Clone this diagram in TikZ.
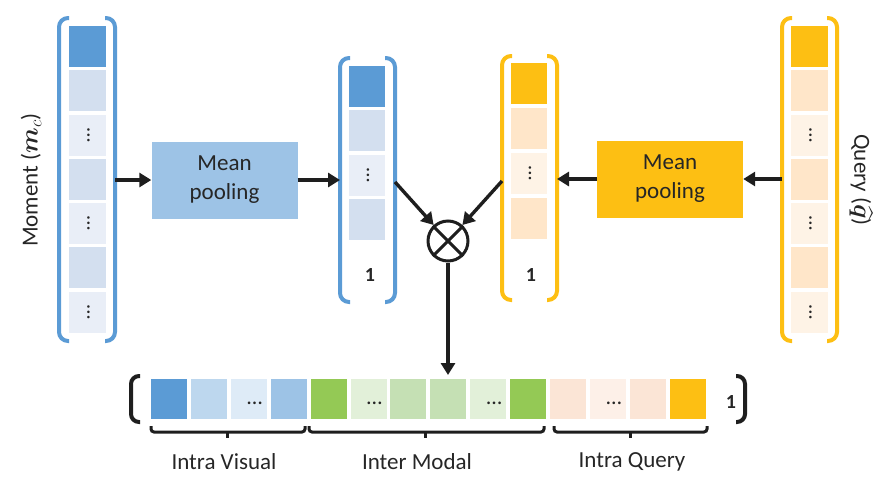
\documentclass[tikz,border=0pt]{standalone}
\usepackage{amsmath,bm}
\usepackage{fontspec}
\setmainfont{Carlito}
\usetikzlibrary{arrows.meta}
\definecolor{dblue}{HTML}{5B9BD5}
\definecolor{lbA}{HTML}{D3DFEF}
\definecolor{lbB}{HTML}{E9EEF7}
\definecolor{poolblue}{HTML}{9DC3E6}
\definecolor{dorange}{HTML}{FDBF13}
\definecolor{loA}{HTML}{FFE6C9}
\definecolor{loB}{HTML}{FEF3E6}
\definecolor{rbA}{HTML}{BDD7EE}
\definecolor{rbB}{HTML}{DEEBF7}
\definecolor{dgreen}{HTML}{94C955}
\definecolor{lgA}{HTML}{E2F0D9}
\definecolor{lgB}{HTML}{C5E0B4}
\definecolor{peA}{HTML}{FBE5D6}
\definecolor{peB}{HTML}{FDF0E8}
\definecolor{ink}{HTML}{1E1E1E}
\definecolor{txt}{HTML}{262626}
\begin{document}
\begin{tikzpicture}[x=1pt,y=-1pt,
  cellbox/.style={minimum width=37pt,minimum height=41pt,inner sep=0pt,outer sep=0pt},
  rowcell/.style={minimum width=36pt,minimum height=40pt,inner sep=0pt,outer sep=0pt},
  poolbox/.style={minimum width=146pt,minimum height=77pt,inner sep=0pt,align=center,
    text=txt,font=\fontsize{23}{29}\selectfont},
  bluebrk/.style={draw=dblue,line width=4pt,rounded corners=9pt},
  orangebrk/.style={draw=dorange,line width=4pt,rounded corners=9pt},
  blackbrk/.style={draw=ink,line width=4pt,rounded corners=8pt},
  bracebar/.style={draw=ink,line width=3pt,rounded corners=3pt},
  arr/.style={draw=ink,line width=3.4pt,-{Triangle[length=12pt,width=14pt]}},
  vdot/.style={rotate=90,anchor=base,inner sep=0pt,text=txt,font=\fontsize{21}{21}\selectfont},
  hdot/.style={anchor=base,inner sep=0pt,text=txt,font=\fontsize{22}{22}\selectfont},
  one/.style={text=txt,font=\fontsize{20}{24}\selectfont\bfseries},
  lab/.style={text=txt,font=\fontsize{23}{28}\selectfont}]
\useasboundingbox (0,0) rectangle (890,482);

% ---------- left tall column (Moment) ----------
\foreach \i/\c in {1/dblue,2/lbA,3/lbB,4/lbA,5/lbB,6/lbA,7/lbB}{
  \node[cellbox,fill=\c] (m\i) at (87.5,{46.5+44.25*(\i-1)}) {};
}
\foreach \i in {3,5,7}{\node[vdot] (mdot\i) at ([xshift=2pt]m\i.center) {…};}
\draw[bluebrk] (69,18) -- (59,18) -- (59,341) -- (69,341);
\draw[bluebrk] (105,18) -- (115,18) -- (115,341) -- (105,341);
\node[lab,rotate=90] (mlab) at (31,180) {Moment ($\bm{m}_c$)};

% ---------- right tall column (Query) ----------
\foreach \i/\c in {1/dorange,2/loA,3/loB,4/loA,5/loB,6/loA,7/loB}{
  \node[cellbox,fill=\c] (q\i) at (809.5,{46.5+44.25*(\i-1)}) {};
}
\foreach \i in {3,5,7}{\node[vdot] (qdot\i) at ([xshift=2pt]q\i.center) {…};}
\draw[orangebrk] (792,18) -- (782,18) -- (782,341) -- (792,341);
\draw[orangebrk] (827,18) -- (837,18) -- (837,341) -- (827,341);
\node[lab,rotate=-90] (qlab) at (861,180) {Query ($\widehat{\bm{q}}$)};

% ---------- pooling boxes ----------
\node[poolbox,fill=poolblue] (mpool) at (224.5,180) {Mean\\pooling};
\node[poolbox,fill=dorange] (qpool) at (670,179) {Mean\\pooling};

% ---------- middle blue column ----------
\foreach \i/\c in {1/dblue,2/lbA,3/lbB,4/lbA}{
  \node[cellbox,minimum width=36pt,fill=\c] (b\i) at (367,{86.5+44.3*(\i-1)}) {};
}
\node[vdot] (bdot) at ([xshift=2pt]b3.center) {…};
\draw[bluebrk] (350,58) -- (340,58) -- (340,302) -- (350,302);
\draw[bluebrk] (385,58) -- (395,58) -- (395,302) -- (385,302);
\node[one] (bone) at (370,275) {1};

% ---------- middle orange column ----------
\foreach \i/\c in {1/dorange,2/loA,3/loB,4/loA}{
  \node[cellbox,minimum width=36pt,fill=\c] (o\i) at (529,{83.5+45*(\i-1)}) {};
}
\node[vdot] (odot) at ([xshift=2pt]o3.center) {…};
\draw[orangebrk] (512,56) -- (502,56) -- (502,300) -- (512,300);
\draw[orangebrk] (547,56) -- (557,56) -- (557,300) -- (547,300);
\node[one] (oone) at (531,275) {1};

% ---------- otimes ----------
\node[circle,draw=ink,line width=3pt,minimum size=40pt,inner sep=0pt] (ot) at (448,241) {};
\draw[ink,line width=3pt] (ot.north west) -- (ot.south east);
\draw[ink,line width=3pt] (ot.north east) -- (ot.south west);

% ---------- connector anchor points ----------
\coordinate (mR) at (115,180);
\coordinate (bL) at (340,180);
\coordinate (bR) at (395,182);
\coordinate (oL) at (502,181);
\coordinate (oR) at (557,179);
\coordinate (qL) at (782,179);
\coordinate (rowtop) at (448,375);

\draw[arr] (mR) -- (mpool.west |- mR);
\draw[arr] (mpool.east |- bL) -- (bL);
\draw[arr] (qL) -- (qpool.east |- qL);
\draw[arr] (qpool.west |- oR) -- (oR);
\draw[arr] (bR) -- (ot);
\draw[arr] (oL) -- (ot);
\draw[arr] (ot.south) -- (rowtop);

% ---------- bottom row ----------
\foreach \i/\c in {1/dblue,2/rbA,3/rbB,4/poolblue,5/dgreen,6/lgA,7/lgB,8/lgB,9/lgA,10/dgreen,11/peA,12/peB,13/peA,14/dorange}{
  \node[rowcell,fill=\c] (r\i) at ({169+39.9*(\i-1)},399) {};
}
\foreach \i in {3,6,9,12}{\node[hdot] (rdot\i) at ([xshift=6pt]r\i.center |- 0,404.5) {…};}
\draw[blackbrk] (140,376) -- (131,376) -- (131,422) -- (140,422);
\draw[blackbrk] (736,376) -- (745,376) -- (745,422) -- (736,422);
\node[one] (rone) at (731,402) {1};

% ---------- braces ----------
\draw[bracebar] (151,426) -- (151,432) -- (305,432) -- (305,426);
\draw[ink,line width=3pt] (227,432) -- (227,438);
\draw[bracebar] (309,426) -- (309,432) -- (544,432) -- (544,426);
\draw[ink,line width=3pt] (425,432) -- (425,438);
\draw[bracebar] (554,426) -- (554,432) -- (707,432) -- (707,426);
\draw[ink,line width=3pt] (630,432) -- (630,438);

\node[lab] (l1) at (224,462) {Intra Visual};
\node[lab] (l2) at (417,462) {Inter Modal};
\node[lab] (l3) at (632,462) {Intra Query};
\end{tikzpicture}
\end{document}
